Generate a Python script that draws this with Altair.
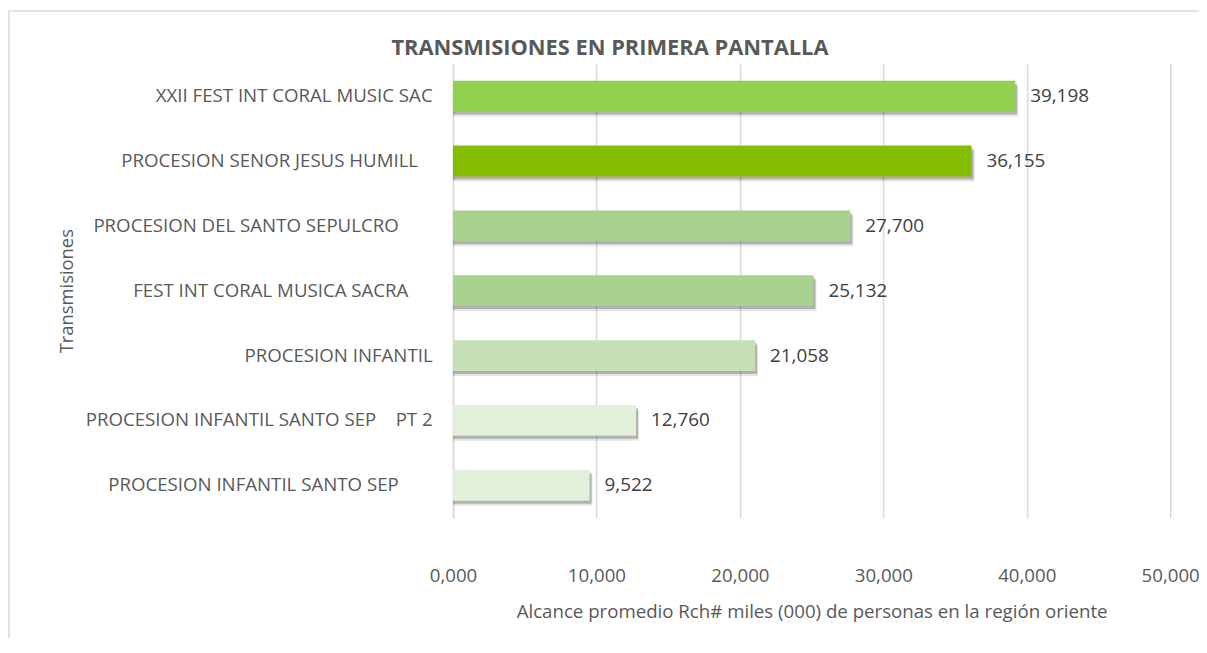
import altair as alt
import pandas as pd

NB = "\u00a0"
ZW = "\u200b"
categories = [
    "XXII FEST INT CORAL MUSIC SAC",
    "PROCESION SENOR JESUS HUMILL" + NB * 3 + ZW,
    "PROCESION DEL SANTO SEPULCRO" + NB * 7 + ZW,
    "FEST INT CORAL MUSICA SACRA" + NB * 5 + ZW,
    "PROCESION INFANTIL",
    "PROCESION INFANTIL SANTO SEP" + NB * 4 + "PT 2",
    "PROCESION INFANTIL SANTO SEP" + NB * 7 + ZW,
]
values = [39.198, 36.155, 27.700, 25.132, 21.058, 12.760, 9.522]
colors = ["#92D050", "#84BD00", "#A9D18E", "#A9D18E", "#C5E0B4", "#E2F0D9", "#E2F0D9"]
x_ticks = [0, 10, 20, 30, 40, 50]
chart_title = "TRANSMISIONES EN PRIMERA PANTALLA"
x_title = "Alcance promedio Rch# miles (000) de personas en la región oriente"
y_title = "Transmisiones"

df = pd.DataFrame({"cat": categories, "val": values})

FONT = "Open Sans"
FS = 18.8
TXT = "#595959"
GRID = "#D9D9D9"
W, H = 722, 457
PL = 448

y_enc = alt.Y(
    "cat:N",
    sort=categories,
    scale=alt.Scale(paddingInner=0.525, paddingOuter=0.2625),
    axis=alt.Axis(
        title=y_title,
        labelFont=FONT, labelFontSize=FS, labelColor=TXT, labelPadding=21,
        labelLimit=0, ticks=False, domainColor=GRID, domainWidth=1.5, grid=False,
        titleFont=FONT, titleFontSize=18.5, titleFontWeight="normal", titleColor=TXT,
        titleX=-389, titleY=H / 2, titleAngle=270, titleAlign="center",
        titleBaseline="middle",
    ),
)
x_enc = alt.X(
    "val:Q",
    scale=alt.Scale(domain=[0, 50], nice=False),
    axis=alt.Axis(
        values=x_ticks,
        labelExpr="replace(format(datum.value, '.3f'), '.', ',')",
        labelFont=FONT, labelFontSize=FS, labelColor=TXT, labelPadding=49,
        labelFlush=False, labelOverlap=False,
        ticks=False, domain=False, grid=True, gridColor=GRID, gridWidth=1.5,
        title=x_title, titleFont=FONT, titleFontSize=FS, titleFontWeight="normal",
        titleColor=TXT, titleY=94, titleBaseline="middle",
    ),
)

base = alt.Chart(df)

shadow_soft = base.mark_bar(color="#000000", opacity=0.10, xOffset=3, yOffset=5, y2Offset=5).encode(
    x=x_enc, x2=alt.datum(0), y=y_enc
)
shadow = base.mark_bar(color="#000000", opacity=0.22, xOffset=2, yOffset=3, y2Offset=3).encode(
    x=x_enc, x2=alt.datum(0), y=y_enc
)
bars = base.mark_bar().encode(
    x=x_enc, x2=alt.datum(0), y=y_enc,
    color=alt.Color("cat:N", scale=alt.Scale(domain=categories, range=colors), legend=None),
)
labels = base.transform_calculate(
    lbl="replace(format(datum.val, '.3f'), '.', ',')"
).mark_text(
    align="left", baseline="middle", dx=15, font=FONT, fontSize=19, color="#404040"
).encode(x=x_enc, y=y_enc, text="lbl:N")

one = alt.Data(values=[{}])
border_left = alt.Chart(one).mark_rule(color=GRID, strokeWidth=1.5).encode(
    x=alt.value(-PL + 1), y=alt.value(-53), y2=alt.value(700)
)
border_top = alt.Chart(one).mark_rule(color=GRID, strokeWidth=1.5).encode(
    x=alt.value(-PL), x2=alt.value(900), y=alt.value(-53)
)
title_mark = alt.Chart(one).mark_text(
    text=chart_title, font=FONT, fontSize=22, fontWeight="bold", color=TXT,
    align="center", baseline="middle",
).encode(x=alt.value(612 - 8 - PL + 2), y=alt.value(-16))

chart = alt.layer(
    border_left, border_top, title_mark, shadow_soft, shadow, bars, labels
).properties(
    width=W,
    height=H,
    autosize=alt.AutoSizeParams(type="none"),
    padding={"left": PL, "top": 54, "right": 1199 - PL - W, "bottom": 119},
    background="white",
).configure_view(stroke="transparent", strokeWidth=0)

chart.save("out.html", embed_options={"renderer": "svg", "actions": False})
